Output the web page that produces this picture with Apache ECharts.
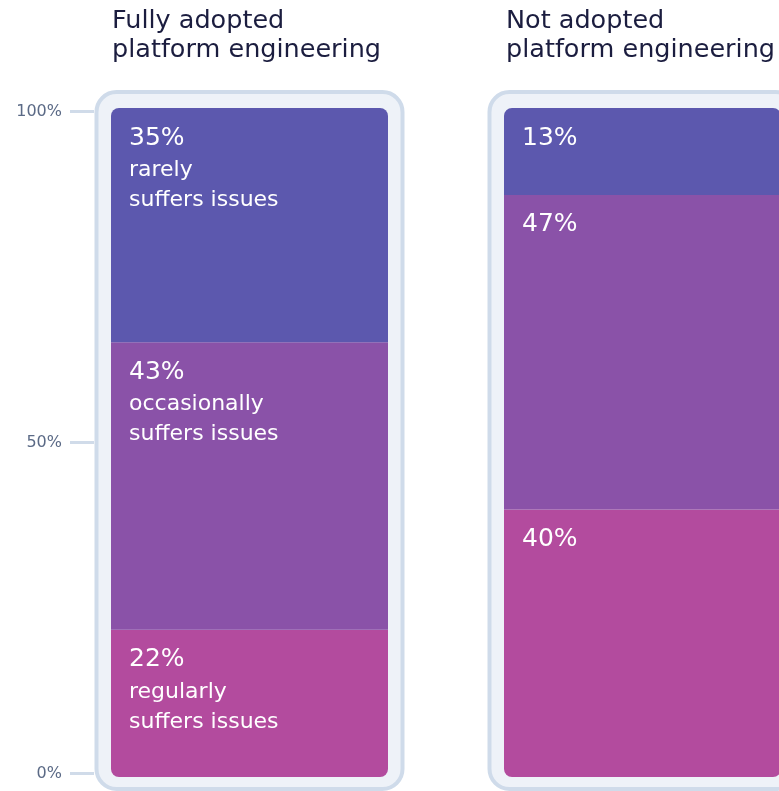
<!DOCTYPE html>
<html>
<head>
<meta charset="utf-8">
<script src="https://cdn.jsdelivr.net/npm/echarts@6/dist/echarts.min.js"></script>
<style>
  html, body { margin: 0; padding: 0; background: #ffffff; }
  #chart { width: 779px; height: 791px; }
</style>
</head>
<body>
<div id="chart"></div>
<script>
// Share of teams by how often they suffer issues, split by platform engineering adoption
const categories = ['Fully adopted\nplatform engineering', 'Not adopted\nplatform engineering'];
const regularly = [22, 40];
const occasionally = [43, 47];
const rarely = [35, 13];
const descRegularly = ['regularly\nsuffers issues', ''];
const descOccasionally = ['occasionally\nsuffers issues', ''];
const descRarely = ['rarely\nsuffers issues', ''];
const yTicks = [0, 50, 100];

const FONT = 'DejaVu Sans';
const COLORS = { rarely: '#5c58ae', occasionally: '#8a52a8', regularly: '#b34b9e' };

const chart = echarts.init(document.getElementById('chart'), null, { renderer: 'canvas' });

function labelFor(desc) {
  return {
    show: true,
    position: 'insideTopLeft',
    distance: 0,
    padding: [13, 0, 0, 18],
    formatter: p => {
      const d = desc[p.dataIndex];
      const v = '{v|' + p.value + '%}';
      return d ? v + '\n{d|' + d.split('\n').join('}\n{d|') + '}' : v;
    },
    rich: {
      v: { fontFamily: FONT, fontSize: 25, lineHeight: 34, color: '#ffffff' },
      d: { fontFamily: FONT, fontSize: 22, lineHeight: 30, color: '#ffffff' }
    }
  };
}

function segment(name, values, desc, radius) {
  return {
    name,
    type: 'bar',
    xAxisIndex: 1,
    yAxisIndex: 1,
    stack: 'share',
    barWidth: 277,
    data: values.map(v => ({ value: v, itemStyle: { borderRadius: radius } })),
    itemStyle: { color: COLORS[name] },
    label: labelFor(desc),
    emphasis: { disabled: true },
    z: 3
  };
}

// The column grid is wider than the page so the second column runs past the right edge
const columnGrid = { left: 53, width: 786, outerBoundsMode: 'none', containLabel: false };

const option = {
  animation: false,
  title: categories.map((c, i) => ({
    text: c,
    left: [112, 506][i],
    top: 7,
    padding: 0,
    textStyle: { fontFamily: FONT, fontSize: 25.5, fontWeight: 'normal', lineHeight: 29, color: '#1b1d3f' }
  })),
  grid: [
    // percentage axis
    { left: 94, width: 80, top: 111.5, bottom: 17.5 },
    // bars
    Object.assign({ top: 108, bottom: 14 }, columnGrid),
    // rounded panels behind bars
    Object.assign({ top: 90, bottom: 0 }, columnGrid)
  ],
  xAxis: [
    { gridIndex: 0, type: 'category', data: [''], show: false },
    { gridIndex: 1, type: 'category', data: categories, show: false },
    { gridIndex: 2, type: 'category', data: categories, show: false }
  ],
  yAxis: [
    {
      gridIndex: 0, type: 'value', min: 0, max: 100, interval: 50,
      axisLine: { show: false },
      splitLine: { show: false },
      axisTick: { show: true, length: 24, lineStyle: { color: '#d0dbe9', width: 3 } },
      axisLabel: {
        margin: 32, fontFamily: FONT, fontSize: 16, color: '#5b6a86',
        formatter: v => yTicks.includes(v) ? v + '%' : ''
      }
    },
    { gridIndex: 1, type: 'value', min: 0, max: 100, show: false },
    { gridIndex: 2, type: 'value', min: 0, max: 100, show: false }
  ],
  series: [
    {
      type: 'bar',
      xAxisIndex: 2,
      yAxisIndex: 2,
      barWidth: 310,
      data: categories.map(() => 100),
      itemStyle: { color: '#eef2f8', borderColor: '#cfdbea', borderWidth: 4, borderRadius: 20 },
      emphasis: { disabled: true },
      silent: true,
      z: 1
    },
    segment('regularly', regularly, descRegularly, [0, 0, 8, 8]),
    segment('occasionally', occasionally, descOccasionally, 0),
    segment('rarely', rarely, descRarely, [8, 8, 0, 0])
  ]
};

chart.setOption(option);
</script>
</body>
</html>
